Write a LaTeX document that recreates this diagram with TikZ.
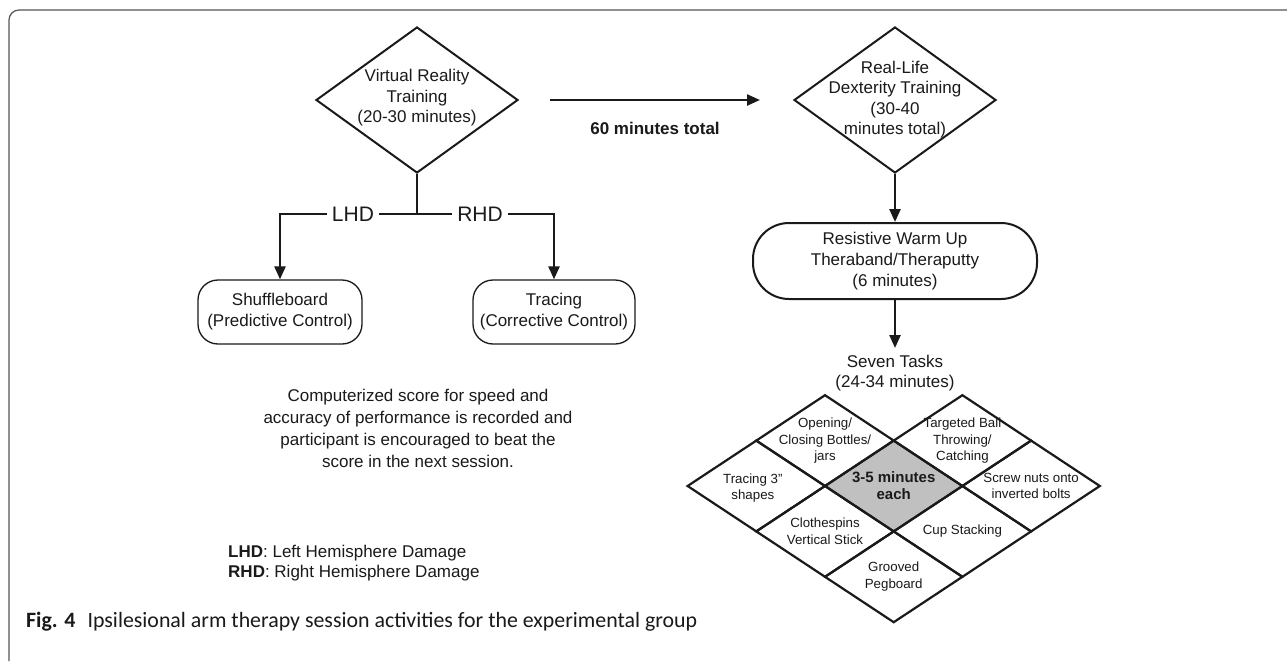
\documentclass[tikz,border=0pt]{standalone}
\usepackage{fontspec}
\setmainfont{Liberation Sans}
\newfontfamily\capfont{Carlito}
\usetikzlibrary{shapes.geometric,arrows.meta,calc}
\definecolor{ink}{HTML}{1A1A1A}
\definecolor{framec}{HTML}{555555}
\definecolor{cellgray}{HTML}{C0C0C0}
\begin{document}
\begin{tikzpicture}[x=1pt,y=-1pt,
  every node/.style={font=\fontsize{17}{20.5}\selectfont, align=center, inner sep=0pt, text=ink},
  dia/.style={diamond, draw=ink, line width=2pt, minimum width=202pt, minimum height=146pt, inner sep=0pt},
  arr/.style={draw=ink, line width=2.4pt, -{Triangle[length=13pt,width=11pt]}},
  ln/.style={draw=ink, line width=2.2pt},
  rbox/.style={draw=ink, line width=1.3pt, rounded corners=20pt, minimum width=164pt, minimum height=64pt, font=\fontsize{17}{21}\selectfont},
  bigbox/.style={draw=ink, line width=2pt, rounded corners=36pt, minimum width=284pt, minimum height=76pt, font=\fontsize{17}{21}\selectfont},
  hd/.style={font=\fontsize{21}{24}\selectfont, inner xsep=5pt, fill=white},
  gl/.style={draw=ink, line width=2.2pt, line join=miter},
  cell/.style={font=\fontsize{13.3}{16.5}\selectfont},
]
\useasboundingbox (0,0) rectangle (1287,661);
\fill[white] (0,0) rectangle (1287,661);
% frame
\draw[framec, line width=1.2pt, rounded corners=10pt] (9,661) -- (9,10) -- (1287,10);

% left branch
\node[dia] (vr) at (417,100) {};
\node (vrt) at (417,98) {Virtual Reality\\Training\\(20-30 minutes)};
\coordinate (jn) at (417,214);
\node[hd] (lhd) at (353,214) {LHD};
\node[hd] (rhd) at (480,214) {RHD};
\node[rbox] (shuf) at (280,312) {Shuffleboard\\(Predictive Control)};
\node[rbox, minimum width=162pt] (trac) at (554,312) {Tracing\\(Corrective Control)};
\draw[ln] (vr.south) -- (jn);
\draw[ln] (lhd.east) -- (rhd.west);
\draw[arr] (lhd.west) -| (shuf.north);
\draw[arr] (rhd.east) -| (trac.north);

\node[font=\fontsize{17}{22}\selectfont] (comp) at (418,428) {Computerized score for speed and\\accuracy of performance is recorded and\\participant is encouraged to beat the\\score in the next session.};

\node[anchor=west, align=left, font=\fontsize{17}{20}\selectfont] (legend) at (228,563) {\textbf{LHD}: Left Hemisphere Damage\\\textbf{RHD}: Right Hemisphere Damage};

% right branch
\node[dia] (rl) at (895,100) {};
\node (rlt) at (895,99.5) {Real-Life\\Dexterity Training\\(30-40\\minutes total)};
\draw[arr] ([xshift=31pt]vr.east) -- ([xshift=-33pt]rl.west);
\node[font=\bfseries\fontsize{17}{20}\selectfont] (tot) at (655,128) {60 minutes total};

\node[bigbox] (res) at (895,261) {Resistive Warm Up\\Theraband/Theraputty\\(6 minutes)};
\draw[arr] (rl.south) -- (res.north);
\coordinate (st) at (895,348);
\draw[arr] (res.south) -- (st);
\node[font=\fontsize{17}{20}\selectfont] (seven) at (895,373) {Seven Tasks\\(24-34 minutes)};

% grid of tasks
\begin{scope}[shift={(825,486)}, x={(68.7pt,45.4pt)}, y={(68.7pt,-45.4pt)}]
  \fill[cellgray] (0,0) -- (1,0) -- (1,1) -- (0,1) -- cycle;
  \foreach \p/\q in {0/0,0/-1,1/0,1/1,0/1,-1/1,-1/0,-1/-1}
    \draw[gl] (\p,\q) -- ++(1,0) -- ++(0,1) -- ++(-1,0) -- cycle;
  \node[cell] (c1) at (0.5,-0.5) {Opening/\\Closing Bottles/\\jars};
  \node[cell] (c2) at (1.5,0.5) {Targeted Ball\\Throwing/\\Catching};
  \node[cell] (c3) at (1.5,1.5) {Screw nuts onto\\inverted bolts};
  \node[cell] (c4) at (0.5,1.5) {Cup Stacking};
  \node[cell] (c5) at (-0.5,1.5) {Grooved\\Pegboard};
  \node[cell] (c6) at (-0.5,0.5) {Clothespins\\Vertical Stick};
  \node[cell] (c7) at (-0.55,-0.5) {Tracing 3"\\shapes};
  \node[font=\bfseries\fontsize{15}{17}\selectfont] (c0) at (0.5,0.5) {3-5 minutes\\each};
\end{scope}

% caption
\node[anchor=base west, text=ink] (cap) at (26,627) {\resizebox{671pt}{!}{\capfont\fontsize{20}{24}\selectfont\textbf{Fig. 4}\hspace{0.55em}Ipsilesional arm therapy session activities for the experimental group}};
\end{tikzpicture}
\end{document}
